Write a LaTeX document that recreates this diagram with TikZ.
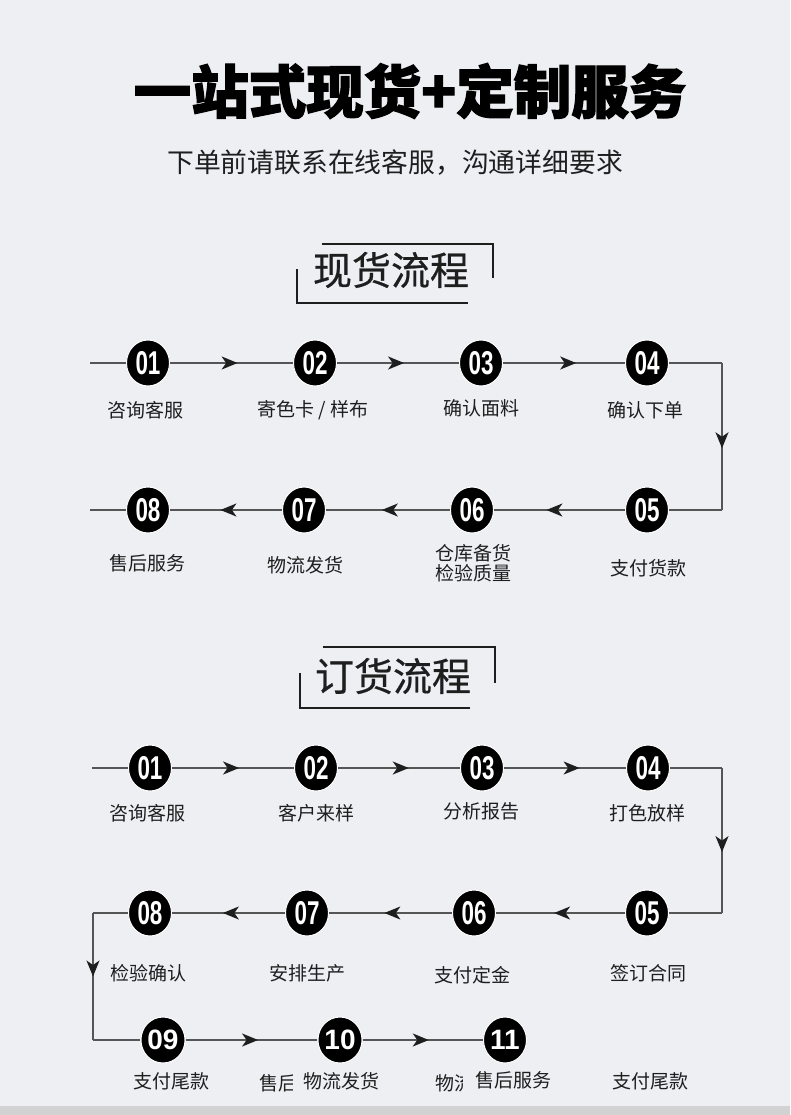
\documentclass[tikz,border=0pt]{standalone}
\usepackage{fontspec}
\setmainfont{Liberation Sans}
\newfontfamily\cjk{Noto Sans CJK SC}
\newfontfamily\cjkmed{Noto Sans CJK SC}[FakeBold=0.6]
\newfontfamily\cjkheavy{Noto Sans CJK SC}[BoldFeatures={FakeBold=2.2}]
\usetikzlibrary{arrows.meta,decorations.markings,shapes.geometric}
\definecolor{bg}{HTML}{EEEFF3}
\definecolor{strip}{HTML}{D2D2D2}
\definecolor{txt}{HTML}{1E1E1E}
\definecolor{flowc}{HTML}{555555}
\newcommand\mynum[1]{\scalebox{0.68}[1]{\fontsize{33}{33}\selectfont\bfseries #1}}
\newcommand\mynumb[1]{{\fontsize{28}{28}\selectfont\bfseries #1}}
\tikzset{
  num/.style={ellipse, fill=black, draw=white, line width=1pt, minimum width=43pt, minimum height=46pt, inner sep=0pt, text=white},
  lbl/.style={font=\cjk\fontsize{19}{22}\selectfont, text=txt, align=center, inner sep=0pt},
  flow/.style={draw=flowc, line width=1.6pt},
  midarrow/.style={postaction={decorate}, decoration={markings, mark=at position #1 with {\arrow[flowc!35!black]{Stealth[length=16pt,width=13pt,inset=4.5pt]}}}},
  hdr/.style={draw=txt, line width=1.8pt},
  hdrtext/.style={font=\cjkmed\fontsize{39}{39}\selectfont, text=txt, inner sep=0pt}
}
\begin{document}
\begin{tikzpicture}[x=1pt,y=-1pt]
\fill[bg] (0,0) rectangle (790,1115);
\fill[strip] (0,1106) rectangle (790,1115);
\useasboundingbox (0,0) rectangle (790,1115);

% title
\node[text=black, inner sep=0pt] (title) at (410,91) {\cjkheavy\bfseries\fontsize{57.5}{58}\selectfont 一站式现货+定制服务};
\node[text=txt, inner sep=0pt] (sub) at (395,163) {\cjk\fontsize{26.8}{27}\selectfont 下单前请联系在线客服，沟通详细要求};

% header 1
\node[hdrtext] (h1) at (391,270) {现货流程};
\draw[hdr] (322,244) -- (493,244) -- (493,278);
\draw[hdr] (297,269) -- (297,303) -- (468,303);

% header 2
\node[hdrtext] (h2) at (393,676) {订货流程};
\draw[hdr] (323,647) -- (495,647) -- (495,683);
\draw[hdr] (300,673) -- (300,708) -- (470,708);

% ---------- row 1 ----------
\node[num] (a1) at (148,363) {\mynum{01}};
\node[num] (a2) at (315,363) {\mynum{02}};
\node[num] (a3) at (481,363) {\mynum{03}};
\node[num] (a4) at (647,363) {\mynum{04}};
\coordinate (as) at (90,363);
\coordinate (ac1) at (722,363);
\coordinate (ac2) at (722,510);
\node[num] (b5) at (647,510) {\mynum{05}};
\node[num] (b6) at (472,510) {\mynum{06}};
\node[num] (b7) at (304,510) {\mynum{07}};
\node[num] (b8) at (148,510) {\mynum{08}};
\coordinate (be) at (90,510);

\draw[flow] (as) -- (a1);
\draw[flow, midarrow=0.55] (a1) -- (a2);
\draw[flow, midarrow=0.55] (a2) -- (a3);
\draw[flow, midarrow=0.6] (a3) -- (a4);
\draw[flow] (a4) -- (ac1);
\draw[flow, midarrow=0.58] (ac1) -- (ac2);
\draw[flow] (ac2) -- (b5);
\draw[flow, midarrow=0.6] (b5) -- (b6);
\draw[flow, midarrow=0.55] (b6) -- (b7);
\draw[flow, midarrow=0.55] (b7) -- (b8);
\draw[flow] (b8) -- (be);

\node[lbl] (la1) at (145,410) {咨询客服};
\node[lbl] (la2) at (313,410) {寄色卡 / 样布};
\node[lbl] (la3) at (481,408) {确认面料};
\node[lbl] (la4) at (645,410) {确认下单};
\node[lbl] (lb8) at (147,563) {售后服务};
\node[lbl] (lb7) at (305,565) {物流发货};
\node[lbl] (lb6) at (473,563) {仓库备货\\[-2pt]检验质量};
\node[lbl] (lb5) at (648,568) {支付货款};

% ---------- row 3 ----------
\node[num] (c1) at (150,768) {\mynum{01}};
\node[num] (c2) at (316,768) {\mynum{02}};
\node[num] (c3) at (482,768) {\mynum{03}};
\node[num] (c4) at (648,768) {\mynum{04}};
\coordinate (cs) at (92,768);
\coordinate (cc1) at (722,768);
\coordinate (cc2) at (722,913);
\node[num] (d5) at (647,913) {\mynum{05}};
\node[num] (d6) at (474,913) {\mynum{06}};
\node[num] (d7) at (307,913) {\mynum{07}};
\node[num] (d8) at (150,913) {\mynum{08}};
\coordinate (dc1) at (93,913);
\coordinate (dc2) at (93,1040);
\node[num] (e9) at (163,1040) {\mynumb{09}};
\node[num] (e10) at (340,1040) {\mynumb{10}};
\node[num] (e11) at (505,1040) {\mynumb{11}};

\draw[flow] (cs) -- (c1);
\draw[flow, midarrow=0.55] (c1) -- (c2);
\draw[flow, midarrow=0.58] (c2) -- (c3);
\draw[flow, midarrow=0.62] (c3) -- (c4);
\draw[flow] (c4) -- (cc1);
\draw[flow, midarrow=0.58] (cc1) -- (cc2);
\draw[flow] (cc2) -- (d5);
\draw[flow, midarrow=0.55] (d5) -- (d6);
\draw[flow, midarrow=0.55] (d6) -- (d7);
\draw[flow, midarrow=0.55] (d7) -- (d8);
\draw[flow] (d8) -- (dc1);
\draw[flow, midarrow=0.5] (dc1) -- (dc2);
\draw[flow] (dc2) -- (e9);
\draw[flow, midarrow=0.55] (e9) -- (e10);
\draw[flow, midarrow=0.55] (e10) -- (e11);

\node[lbl] (lc1) at (147,813) {咨询客服};
\node[lbl] (lc2) at (316,813) {客户来样};
\node[lbl] (lc3) at (481,811) {分析报告};
\node[lbl] (lc4) at (647,813) {打色放样};
\node[lbl] (ld8) at (148,973) {检验确认};
\node[lbl] (ld7) at (307,973) {安排生产};
\node[lbl] (ld6) at (472,975) {支付定金};
\node[lbl] (ld5) at (648,973) {签订合同};
\node[lbl] (le9) at (171,1081) {支付尾款};
\node[lbl] (le10) at (341,1081) {物流发货};
\node[lbl] (le11) at (513,1080) {售后服务};
\node[lbl] (le12) at (650,1081) {支付尾款};
\begin{scope}
\clip (250,1065) rectangle (292,1100);
\node[lbl, anchor=west] (lx1) at (259,1083) {售后};
\end{scope}
\begin{scope}
\clip (425,1065) rectangle (462,1100);
\node[lbl, anchor=west] (lx2) at (435,1083) {物流};
\end{scope}
\end{tikzpicture}
\end{document}
